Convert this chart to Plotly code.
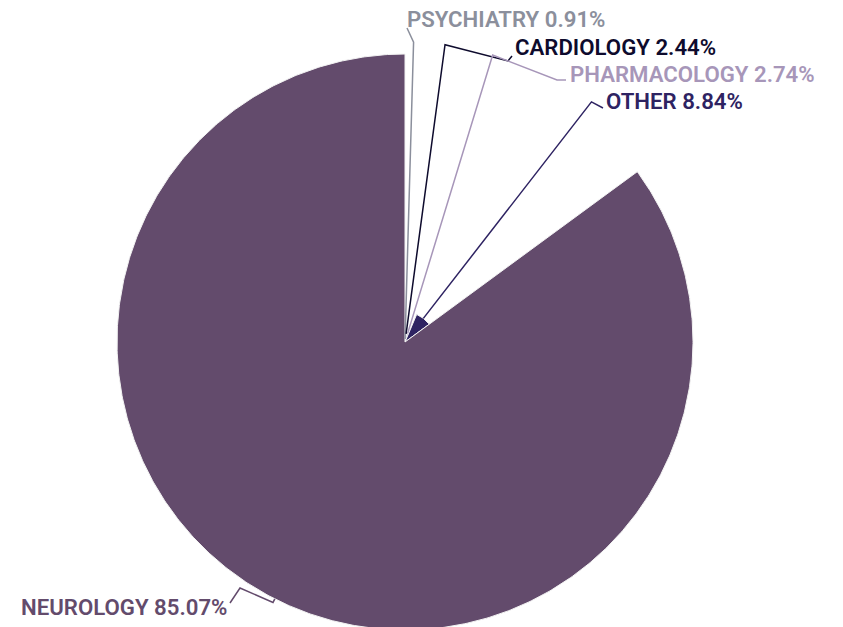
import numpy as np
import plotly.graph_objects as go

# ---- data ----
labels = ["PSYCHIATRY", "CARDIOLOGY", "PHARMACOLOGY", "OTHER", "NEUROLOGY"]
values = [0.91, 2.44, 2.74, 8.84, 85.07]
colors = ["#8b8f9c", "#0e0b2d", "#a796b9", "#2e2362", "#634b6c"]

# ---- layout constants (pixels) ----
W, H = 843, 627
CX, CY, R = 405, 342, 288
# outer radius of the radial part of each leader line
tick_r = [300, 300, 300, 304, 292]
# extra bend points of each leader line and label anchor
bends = [
    [(407, 28)],
    [(508, 61), (512, 56)],
    [(557, 80), (566, 80)],
    [(603, 108)],
    [(240, 588), (230, 603)],
]
label_pos = [(405, 19, "left"), (513, 47, "left"), (568, 74, "left"),
             (604, 101, "left"), (229, 607, "right")]


def pt(angle_deg, r):
    a = np.radians(angle_deg)
    return CX + r * np.sin(a), CY - r * np.cos(a)


vals = np.array(values)
total = vals.sum()
spans = vals / total * 360.0
starts = np.concatenate([[0], np.cumsum(spans)[:-1]])
radii = R * vals / vals.max()

fig = go.Figure()

# wedges
for lab, s, sp, r, c in zip(labels, starts, spans, radii, colors):
    ang = np.linspace(s, s + sp, max(int(sp * 2), 3))
    xs, ys = pt(ang, r)
    xs = np.concatenate([[CX], xs, [CX]])
    ys = np.concatenate([[CY], ys, [CY]])
    fig.add_trace(go.Scatter(x=xs, y=ys, mode="lines", fill="toself",
                             fillcolor=c, line=dict(color="#f2f2f2", width=1),
                             hoverinfo="skip", showlegend=False))

# leader lines and labels
for i, (lab, s, sp, r, c, v) in enumerate(zip(labels, starts, spans, radii, colors, values)):
    mid = s + sp / 2
    x0, y0 = pt(mid, r)
    x1, y1 = pt(mid, tick_r[i])
    xs = [x0, x1] + [b[0] for b in bends[i]]
    ys = [y0, y1] + [b[1] for b in bends[i]]
    fig.add_trace(go.Scatter(x=xs, y=ys, mode="lines",
                             line=dict(color=c, width=1.5),
                             hoverinfo="skip", showlegend=False))
    lx, ly, anc = label_pos[i]
    fig.add_annotation(x=lx, y=ly, xref="x", yref="y", text=f"{lab} {v:.2f}%",
                       showarrow=False, xanchor=anc, yanchor="middle",
                       font=dict(family="Roboto", size=22.2, color=c, weight=600))

fig.update_layout(
    width=W, height=H, margin=dict(l=0, r=0, t=0, b=0),
    paper_bgcolor="white", plot_bgcolor="white",
    xaxis=dict(range=[0, W], visible=False, fixedrange=True),
    yaxis=dict(range=[H, 0], visible=False, fixedrange=True),
)

fig.write_html("out.html", config={"displayModeBar": False},
               post_script="document.body.style.margin='0';document.body.style.overflow='hidden';")
